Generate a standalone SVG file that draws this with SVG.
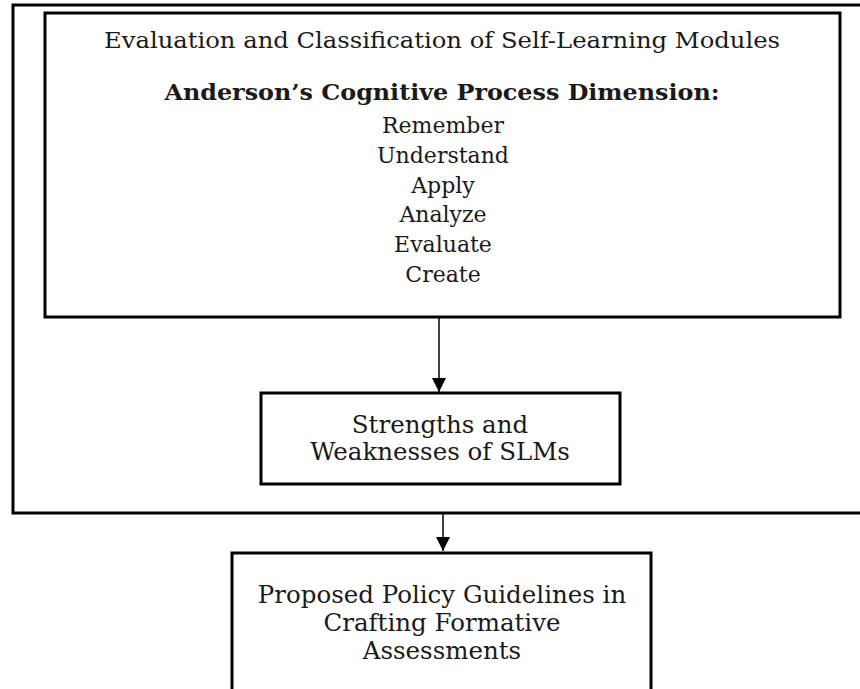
<svg xmlns="http://www.w3.org/2000/svg" width="860" height="689" viewBox="0 0 860 689">
<style>
.box{fill:none;stroke:#000;stroke-width:3}
.t{font-family:"DejaVu Serif","Liberation Serif",serif;font-size:23px;fill:#1a1a1a;text-anchor:middle}
.l{font-size:22px}
.n{font-size:24.5px}
.b{font-weight:bold}
.c{stroke:#000;stroke-width:1.5;fill:none}
</style>
<defs>
<marker id="ah" markerWidth="14" markerHeight="14" refX="14" refY="7" orient="auto" markerUnits="userSpaceOnUse">
<path d="M0,0 L14,7 L0,14 Z" fill="#000"/>
</marker>
</defs>
<rect width="860" height="689" fill="#fff"/>
<g id="outer">
<rect class="box" x="13" y="5" width="870" height="508"/>
</g>
<g id="eval">
<rect class="box" x="45" y="13" width="795" height="304"/>
<text class="t" x="442" y="48" textLength="676" lengthAdjust="spacingAndGlyphs">Evaluation and Classification of Self-Learning Modules</text>
<text class="t b" x="442" y="100" textLength="555" lengthAdjust="spacingAndGlyphs">Anderson’s Cognitive Process Dimension:</text>
<text class="t l" x="443" y="133">Remember</text>
<text class="t l" x="443" y="163">Understand</text>
<text class="t l" x="443" y="193">Apply</text>
<text class="t l" x="443" y="222">Analyze</text>
<text class="t l" x="443" y="252">Evaluate</text>
<text class="t l" x="443" y="282">Create</text>
</g>
<g id="strengths">
<rect class="box" x="261" y="393" width="359" height="91"/>
<text class="t n" x="440" y="433">Strengths and</text>
<text class="t n" x="440" y="460">Weaknesses of SLMs</text>
</g>
<g id="proposed">
<rect class="box" x="232" y="553" width="419" height="150"/>
<text class="t n" x="442" y="603">Proposed Policy Guidelines in</text>
<text class="t n" x="442" y="631">Crafting Formative</text>
<text class="t n" x="442" y="659">Assessments</text>
</g>
<g id="connectors">
<line class="c" x1="439" y1="318" x2="439" y2="392" marker-end="url(#ah)"/>
<line class="c" x1="443" y1="514" x2="443" y2="551" marker-end="url(#ah)"/>
</g>
</svg>
